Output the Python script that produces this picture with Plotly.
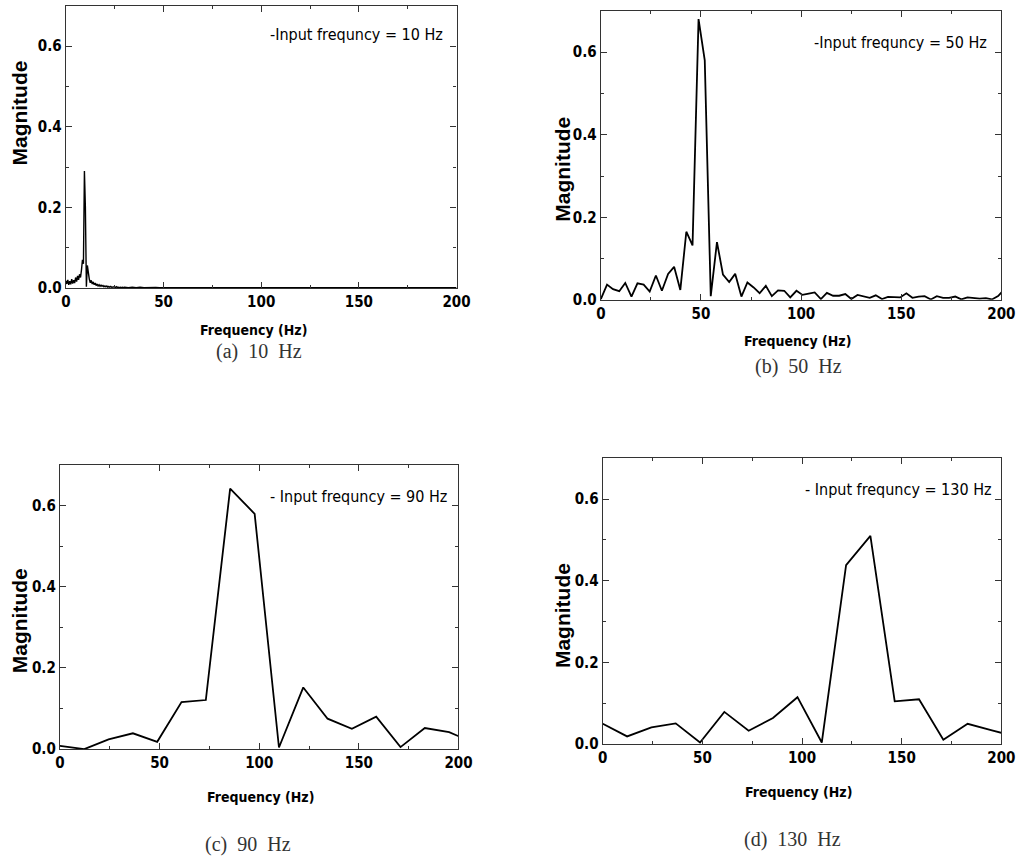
import plotly.graph_objects as go

# ---------------- data ----------------
freq_a = [0.0, 0.5, 1.0, 1.5, 2.0, 2.5, 3.0, 3.5, 4.0, 4.5, 5.0, 5.5, 6.0, 6.5, 7.0, 7.5,
          8.0, 8.5, 9.0, 9.5, 10.0, 10.5, 11.0, 11.5, 12.0, 12.5, 13.0, 13.5, 14.0, 14.5,
          15.0, 15.5, 16.0, 16.5, 17.0, 17.5, 18.0, 18.5, 19.0, 19.5, 20.0, 20.5, 21.0,
          21.5, 22.0, 22.5, 23.0, 23.5, 24.0, 24.5, 25.0, 25.5, 26.0, 26.5, 27.0, 27.5,
          28.0, 28.5, 29.0, 29.5, 30.0, 32, 34, 36, 38, 40, 42, 44, 46, 48, 50, 60, 80,
          100, 120, 140, 160, 180, 200]
mag_a = [0.018, 0.010, 0.020, 0.008, 0.017, 0.009, 0.022, 0.011, 0.019, 0.012, 0.026,
         0.016, 0.030, 0.020, 0.034, 0.026, 0.045, 0.070, 0.060, 0.290, 0.200, 0.003,
         0.056, 0.030, 0.022, 0.013, 0.019, 0.010, 0.015, 0.008, 0.012, 0.006, 0.010,
         0.005, 0.008, 0.004, 0.007, 0.004, 0.006, 0.003, 0.005, 0.003, 0.005, 0.002,
         0.004, 0.002, 0.004, 0.002, 0.003, 0.002, 0.003, 0.001, 0.003, 0.001, 0.002,
         0.001, 0.002, 0.001, 0.002, 0.001, 0.002, 0.001, 0.002, 0.001, 0.002, 0.001,
         0.0015, 0.001, 0.0015, 0.001, 0.001, 0.0008, 0.0006, 0.0005, 0.0005, 0.0004,
         0.0004, 0.0004, 0.0004]

freq_b = [0.0, 3.1, 6.1, 9.2, 12.2, 15.3, 18.3, 21.4, 24.4, 27.5, 30.5, 33.6, 36.6, 39.7,
          42.7, 45.8, 48.8, 51.9, 54.9, 58.0, 61.0, 64.1, 67.1, 70.2, 73.2, 76.3, 79.3,
          82.4, 85.4, 88.5, 91.6, 94.6, 97.7, 100.7, 103.8, 106.8, 109.9, 112.9, 116.0,
          119.0, 122.1, 125.1, 128.2, 131.2, 134.3, 137.3, 140.4, 143.4, 146.5, 149.5,
          152.6, 155.6, 158.7, 161.7, 164.8, 167.8, 170.9, 173.9, 177.0, 180.0, 183.1,
          186.1, 189.2, 192.3, 195.3, 198.4, 201.4]
mag_b = [0.002, 0.037, 0.026, 0.021, 0.041, 0.008, 0.040, 0.037, 0.020, 0.059, 0.022,
         0.063, 0.080, 0.024, 0.165, 0.132, 0.680, 0.580, 0.009, 0.140, 0.061, 0.043,
         0.063, 0.008, 0.042, 0.030, 0.016, 0.034, 0.009, 0.023, 0.022, 0.006, 0.022,
         0.012, 0.015, 0.018, 0.002, 0.017, 0.010, 0.010, 0.014, 0.002, 0.012, 0.009,
         0.005, 0.011, 0.002, 0.007, 0.006, 0.006, 0.016, 0.005, 0.008, 0.009, 0.001,
         0.009, 0.005, 0.005, 0.008, 0.001, 0.006, 0.005, 0.003, 0.004, 0.001, 0.009,
         0.025]

freq_cd = [0.0, 12.2, 24.4, 36.6, 48.8, 61.0, 73.2, 85.4, 97.7, 109.9, 122.1, 134.3,
           146.5, 158.7, 170.9, 183.1, 195.3, 207.5]
mag_c = [0.008, 0.000, 0.024, 0.039, 0.018, 0.116, 0.121, 0.642, 0.580, 0.004, 0.152,
         0.075, 0.050, 0.080, 0.005, 0.052, 0.042, 0.016]
mag_d = [0.050, 0.019, 0.041, 0.051, 0.004, 0.079, 0.033, 0.064, 0.115, 0.004, 0.438,
         0.510, 0.105, 0.110, 0.011, 0.050, 0.034, 0.018]

labels = ["-Input frequncy = 10 Hz", "-Input frequncy = 50 Hz",
          "- Input frequncy = 90 Hz", "- Input frequncy = 130 Hz"]
captions = ["(a)\u00a0\u00a010\u00a0\u00a0Hz", "(b)\u00a0\u00a050\u00a0\u00a0Hz",
            "(c)\u00a0\u00a090\u00a0\u00a0Hz", "(d)\u00a0\u00a0130\u00a0\u00a0Hz"]
x_ticks = [0, 50, 100, 150, 200]
y_ticks = [0.0, 0.2, 0.4, 0.6]

# ---------------- layout geometry (pixels) ----------------
W, H = 1032, 866
boxes = [(62, 460, 6, 291), (607, 1015, 11, 303), (56, 462, 470, 757), (609, 1015, 463, 752)]
ann_pos = [(448, 35), (1002, 43), (452, 502), (1008, 495)]
xtitle_pos = [(253, 333), (807, 345), (260, 805), (808, 800)]
ytitle_pos = [(15, 114), (568, 171), (15, 627), (568, 622)]
caption_pos = [(259, 355), (808, 370), (248, 853), (802, 848)]

series = [(freq_a, mag_a, 1.4), (freq_b, mag_b, 1.8), (freq_cd, mag_c, 1.8), (freq_cd, mag_d, 1.8)]

NARROW = "DejaVu Sans Condensed, Liberation Sans Narrow, Arial Narrow, Liberation Sans, sans-serif"
fig = go.Figure()
annotations = []
for i, ((fx, fy, lw), (l, r, t, b)) in enumerate(zip(series, boxes)):
    n = "" if i == 0 else str(i + 1)
    fig.add_trace(go.Scatter(x=fx, y=fy, mode="lines", line=dict(color="black", width=lw),
                             xaxis="x" + n, yaxis="y" + n, showlegend=False,
                             hoverinfo="skip"))
    axis_common = dict(showline=True, linecolor="#333", linewidth=1.3, mirror="ticks",
                       ticks="inside", ticklen=6, tickwidth=1.2, tickcolor="#333",
                       showgrid=False, zeroline=False,
                       tickfont=dict(family=NARROW, size=15, color="black", weight="bold"))
    fig.layout["xaxis" + n] = dict(
        domain=[l / W, r / W], range=[0, 200], tickvals=x_ticks,
        ticktext=[str(v) for v in x_ticks], anchor="y" + n,
        minor=dict(ticks="inside", ticklen=3, tickcolor="#333", dtick=25, tick0=0),
        **axis_common)
    fig.layout["yaxis" + n] = dict(
        domain=[1 - b / H, 1 - t / H], range=[0, 0.7], tickvals=y_ticks,
        ticktext=["%.1f" % v for v in y_ticks], anchor="x" + n,
        minor=dict(ticks="inside", ticklen=3, tickcolor="#333", dtick=0.1, tick0=0),
        **axis_common)
    ax, ay = ann_pos[i]
    annotations.append(dict(x=ax / W, y=1 - ay / H, xref="paper", yref="paper",
                            text=labels[i], showarrow=False, xanchor="right", yanchor="middle",
                            font=dict(family=NARROW, size=16, color="black")))
    tx, ty = xtitle_pos[i]
    annotations.append(dict(x=tx / W, y=1 - ty / H, xref="paper", yref="paper",
                            text="Frequency (Hz)", showarrow=False, xanchor="center",
                            yanchor="middle",
                            font=dict(family=NARROW, size=14, color="black", weight="bold")))
    yx, yy = ytitle_pos[i]
    annotations.append(dict(x=yx / W, y=1 - yy / H, xref="paper", yref="paper",
                            text="Magnitude", showarrow=False, textangle=-90,
                            xanchor="center", yanchor="middle",
                            font=dict(family="Liberation Sans, Arial, sans-serif", size=21,
                                      color="black", weight="bold")))
    cx, cy = caption_pos[i]
    annotations.append(dict(x=cx / W, y=1 - cy / H, xref="paper", yref="paper",
                            text=captions[i], showarrow=False, xanchor="center",
                            yanchor="middle",
                            font=dict(family="Liberation Serif, DejaVu Serif, serif", size=20,
                                      color="#333")))

fig.update_layout(width=W, height=H, margin=dict(l=0, r=0, t=0, b=0),
                  paper_bgcolor="white", plot_bgcolor="white", annotations=annotations)
fig.write_html("out.html")
